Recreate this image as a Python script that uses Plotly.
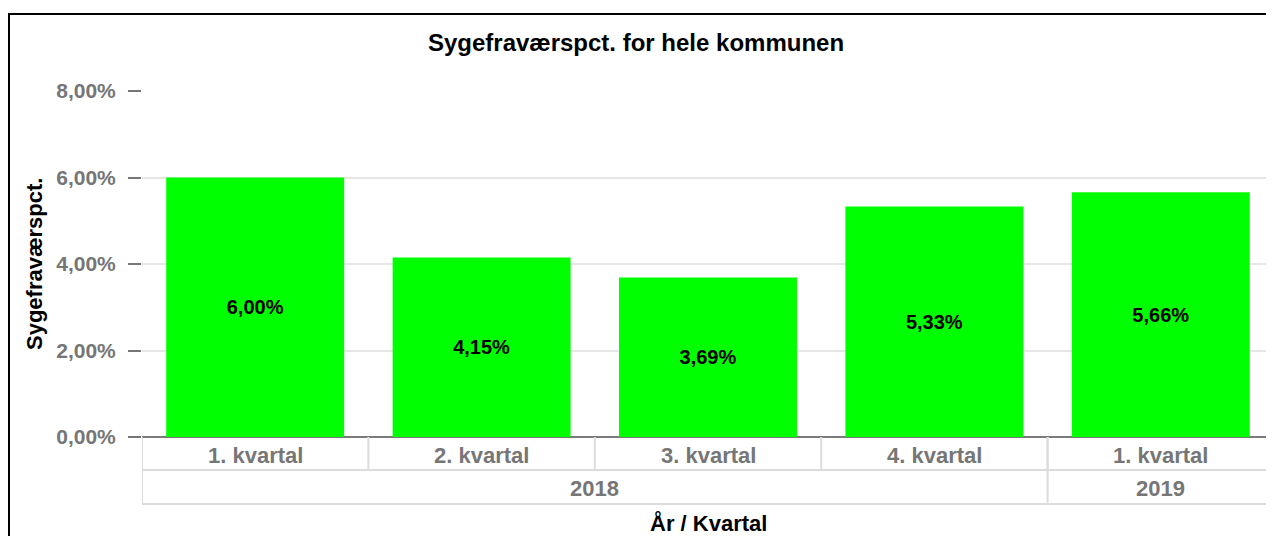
import plotly.graph_objects as go

# ---- data ----
years = ["2018", "2018", "2018", "2018", "2019"]
quarters = ["1. kvartal", "2. kvartal", "3. kvartal", "4. kvartal", "1. kvartal"]
values = [6.00, 4.15, 3.69, 5.33, 5.66]
y_ticks = [0, 2, 4, 6, 8]
y_ticklabels = ["0,00%", "2,00%", "4,00%", "6,00%", "8,00%"]

title_text = "Sygefraværspct. for hele kommunen"
y_title = "Sygefraværspct."
x_title = "År / Kvartal"

# ---- layout constants (pixels; page body has an 8px margin) ----
OFF = 8
W, H = 1274 - OFF, 536 - OFF
ML, MR, MT, MB = 142 - OFF, 0, 91 - OFF, 99
PLOT_W = W - ML - MR
PLOT_H = H - MT - MB
ROW_H = 33  # height of one label row in the category table

FONT = "Liberation Sans, Arial, sans-serif"
GRAY = "#767676"
LINE_GRAY = "#dcdcdc"

def py(px_below_axis):
    """pixels below the x axis -> paper y"""
    return -px_below_axis / PLOT_H

n = len(values)
xs = list(range(n))

fig = go.Figure()
fig.add_trace(go.Bar(
    x=xs, y=values,
    marker=dict(color="#00ff00", line=dict(width=0)),
    texttemplate="%{y:.2f}%",
    textposition="inside",
    insidetextanchor="middle",
    textfont=dict(family=FONT, size=20, color="black", weight="bold"),
    hoverinfo="skip",
))

shapes = []
annotations = []
line = dict(color=LINE_GRAY, width=2)

# row 1: quarter cells
for i, q in enumerate(quarters):
    shapes.append(dict(type="line", xref="x", yref="paper",
                       x0=i - 0.5, x1=i - 0.5, y0=0, y1=py(ROW_H), line=line))
    annotations.append(dict(xref="x", yref="paper", x=i, y=py(ROW_H * 0.55),
                            text=q, showarrow=False, yanchor="middle",
                            font=dict(family=FONT, size=22, color=GRAY, weight="bold")))
# horizontal lines of the table
for k in (1, 2):
    shapes.append(dict(type="line", xref="x", yref="paper",
                       x0=-0.5, x1=n - 0.5, y0=py(ROW_H * k - 1 + k), y1=py(ROW_H * k - 1 + k), line=line))

# row 2: year groups
groups = []
for i, yv in enumerate(years):
    if groups and groups[-1][0] == yv:
        groups[-1][2] = i
    else:
        groups.append([yv, i, i])
for yv, a, b in groups:
    shapes.append(dict(type="line", xref="x", yref="paper",
                       x0=a - 0.5, x1=a - 0.5, y0=0, y1=py(ROW_H * 2 + 1), line=line))
    annotations.append(dict(xref="x", yref="paper", x=(a + b) / 2, y=py(ROW_H * 1.55),
                            text=yv, showarrow=False, yanchor="middle",
                            font=dict(family=FONT, size=22, color=GRAY, weight="bold")))

# axis titles
annotations.append(dict(xref="paper", yref="paper", x=0.5, y=py(86),
                        text=x_title, showarrow=False, yanchor="middle",
                        font=dict(family=FONT, size=22, color="black", weight="bold")))
annotations.append(dict(xref="paper", yref="paper", x=(34 - OFF - ML) / PLOT_W, y=0.5,
                        text=y_title, showarrow=False, textangle=-90,
                        xanchor="center", yanchor="middle",
                        font=dict(family=FONT, size=22, color="black", weight="bold")))

# outer chart border (cropped at right/bottom)
shapes.append(dict(type="rect", xref="paper", yref="paper",
                   x0=(9 - OFF - ML) / PLOT_W, x1=1.2, y0=-1.0,
                   y1=(PLOT_H + MT - (14 - OFF)) / PLOT_H,
                   line=dict(color="black", width=2), fillcolor="rgba(0,0,0,0)", layer="above"))

fig.update_layout(
    width=W, height=H,
    margin=dict(l=ML, r=MR, t=MT, b=MB, autoexpand=False),
    paper_bgcolor="white", plot_bgcolor="white",
    separators=",.",
    showlegend=False,
    bargap=0.214,
    title=dict(text=title_text, x=(636 - OFF) / W, xref="container", xanchor="center",
               y=1 - (43 - OFF) / H, yref="container", yanchor="middle",
               font=dict(family=FONT, size=24, color="black", weight="bold")),
    xaxis=dict(range=[-0.5, n - 0.5], showticklabels=False, showgrid=False,
               zeroline=False, showline=False, ticks="", fixedrange=True),
    yaxis=dict(range=[0, 8], tickmode="array", tickvals=y_ticks, ticktext=y_ticklabels,
               showgrid=True, gridcolor="#e6e6e6", gridwidth=2,
               zeroline=True, zerolinecolor="#7a7a7a", zerolinewidth=2,
               ticks="outside", ticklen=13, tickwidth=2, tickcolor=GRAY,
               ticklabelstandoff=8,
               tickfont=dict(family=FONT, size=21, color=GRAY, weight="bold"),
               showline=False),
    shapes=shapes,
    annotations=annotations,
)

fig.write_html("out.html")
